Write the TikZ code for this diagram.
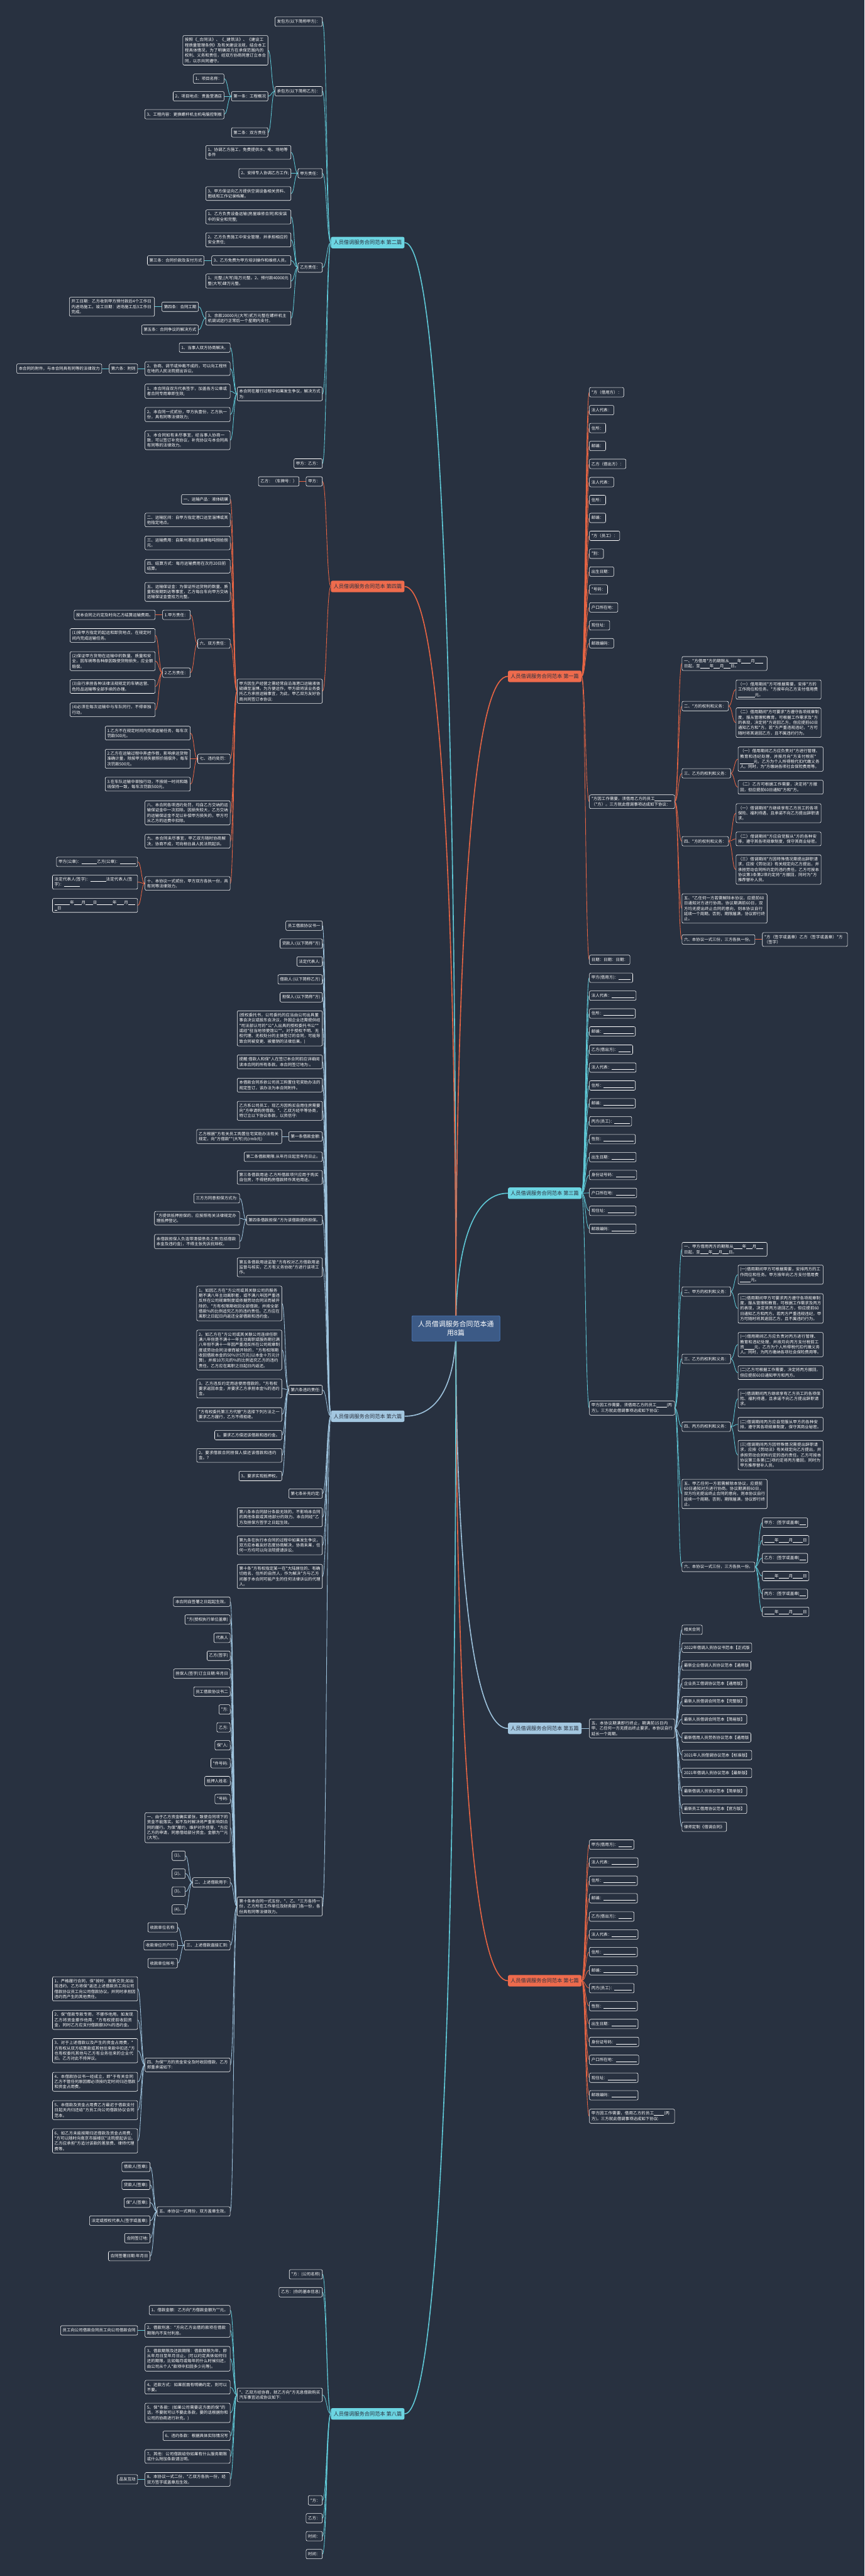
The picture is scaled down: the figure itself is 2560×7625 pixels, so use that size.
\documentclass[tikz,border=0pt]{standalone}
\usepackage{fontspec}
\setmainfont{Noto Sans CJK SC}
\usetikzlibrary{calc}
\XeTeXlinebreaklocale "zh"
\XeTeXlinebreakskip=0pt plus 1pt
\definecolor{bgc}{HTML}{283140}
\definecolor{cy}{HTML}{6CD5E2}
\definecolor{cyL}{HTML}{5FC9D7}
\definecolor{rd}{HTML}{EE6B4D}
\definecolor{rdL}{HTML}{E76443}
\definecolor{lb}{HTML}{A3C7E0}
\definecolor{lbL}{HTML}{9DC2DC}
\definecolor{rootf}{HTML}{3C5A86}
\definecolor{rootb}{HTML}{4B80C8}
\definecolor{dk}{HTML}{2B3240}
\newcommand\blk[1]{\leavevmode\allowbreak\rule[-1.5pt]{#1pt}{0.6pt}\allowbreak}
\newcommand\cR[3]{\draw[#1] (#2.east) .. controls ($(#2.east)!0.5!(#2.east -| #3.west)$) and ($(#3.west)!0.5!(#3.west -| #2.east)$) .. (#3.west);}
\newcommand\cL[3]{\draw[#1] (#2.west) .. controls ($(#2.west)!0.5!(#2.west -| #3.east)$) and ($(#3.east)!0.5!(#3.east -| #2.west)$) .. (#3.east);}
\newcommand\rR[2]{\draw[#1] (root.center) .. controls ($(root.center)!0.15!(root.center |- #2.west)$) and (root.center |- #2.west) .. (#2.west);}
\newcommand\rL[2]{\draw[#1] (root.center) .. controls ($(root.center)!0.15!(root.center |- #2.east)$) and (root.center |- #2.east) .. (#2.east);}
\pgfdeclarelayer{back}\pgfdeclarelayer{lines}\pgfsetlayers{back,lines,main}
\tikzset{
 box/.style={draw=white, line width=1.1pt, rounded corners=4pt, fill=bgc, text=white, font=\fontsize{12}{15.5}\selectfont, inner xsep=6pt, inner ysep=7pt, minimum height=28pt, align=left},
 w/.style={text width=240pt},
 L/.style={box, anchor=east},
 R/.style={box, anchor=west},
 brn/.style={rounded corners=5pt, text=dk, font=\fontsize{15.3}{18}\selectfont, inner xsep=7pt, minimum width=218pt, minimum height=34pt},
 rootn/.style={fill=rootf, draw=rootb, line width=1.2pt, rounded corners=4pt, text=white, font=\fontsize{20.4}{26}\selectfont, align=center, minimum width=261pt, minimum height=75pt},
 cyl/.style={draw=cyL, line width=1.6pt},
 rdl/.style={draw=rdL, line width=1.6pt},
 lbl/.style={draw=lbL, line width=1.6pt},
 rtc/.style={draw=cyL, line width=3pt},
 rtr/.style={draw=rdL, line width=3pt},
 rtb/.style={draw=lbL, line width=3pt},
}
\begin{document}
\begin{tikzpicture}[x=1pt,y=-1pt]
\begin{pgfonlayer}{back}
\fill[bgc] (0,0) rectangle (2560,7625);
\end{pgfonlayer}
\useasboundingbox (0,0) rectangle (2560,7625);

\node[rootn] (root) at (1350,3932) {人员借调服务合同范本通\\用8篇};
\node[brn,fill=rd,anchor=west] (b1) at (1504,2002) {人员借调服务合同范本 第一篇};
\node[brn,fill=cy,anchor=east] (b2) at (1198,718) {人员借调服务合同范本 第二篇};
\node[brn,fill=cy,anchor=west] (b3) at (1504,3532) {人员借调服务合同范本 第三篇};
\node[brn,fill=rd,anchor=east] (b4) at (1198,1736) {人员借调服务合同范本 第四篇};
\node[brn,fill=lb,anchor=west] (b5) at (1504,5116) {人员借调服务合同范本 第五篇};
\node[brn,fill=lb,anchor=east] (b6) at (1198,4192) {人员借调服务合同范本 第六篇};
\node[brn,fill=rd,anchor=west] (b7) at (1504,5863) {人员借调服务合同范本 第七篇};
\node[brn,fill=cy,anchor=east] (b8) at (1198,7145) {人员借调服务合同范本 第八篇};

% ---------- 第二篇 ----------
\node[L] (n201) at (955,64) {发包方(以下简称甲方)：};
\node[L] (n202) at (955,270) {承包方(以下简称乙方)：};
\node[L,w] (n203) at (794,149) {按照《\_合同法》、《\_建筑法》、《建设工程质量管理条例》及有关建设法规，结合本工程具体情况，为了明确双方在承保范围内的权利、义务和责任，经双方协商同意订立本合同，以示共同遵守。};
\node[L] (n204) at (794,285) {第一条：工程概况};
\node[L] (n205) at (664,233) {1、项目名称：};
\node[L] (n206) at (664,285) {2、项目地点：贵盈堂酒店};
\node[L] (n207) at (664,338) {3、工程内容：更换螺杆机主机电脑控制板};
\node[L] (n208) at (794,392) {第二条：双方责任};
\node[L] (n209) at (955,513) {甲方责任：};
\node[L,w] (n210) at (862,451) {1、协调乙方施工，免费提供水、电、场地等条件};
\node[L] (n211) at (862,513) {2、安排专人协调乙方工作;};
\node[L,w] (n212) at (862,573) {3、甲方保证向乙方提供空调设备相关资料、图纸和工作记录档案。};
\node[L] (n213) at (955,792) {乙方责任：};
\node[L,w] (n214) at (862,642) {1、乙方负责设备运输(房屋维修合同)和安装中的安全和完整;};
\node[L,w] (n215) at (862,710) {2、乙方负责施工中安全管理，并承担相应的安全责任;};
\node[L] (n216) at (862,771) {3、乙方免费为甲方培训操作和维修人员。};
\node[L] (n217) at (605,771) {第三条：合同价款及支付方式};
\node[L,w] (n218) at (862,832) {1、元整;(大写)陆万元整。2、预付款40000元整(大写)肆万元整。};
\node[L,w] (n219) at (862,942) {3、余款20000元(大写)贰万元整在螺杆机主机调试运行正常后一个星期内支付。};
\node[L] (n220) at (588,908) {第四条：合同工期};
\node[L,w] (n221) at (458,908) {开工日期：乙方收到甲方预付款后4个工作日内进场施工。竣工日期：进场施工后3工作日完成。};
\node[L] (n222) at (588,976) {第五条：合同争议的解决方式};
\node[L,w] (n223) at (955,1166) {本合同在履行过程中如果发生争议，解决方式为:};
\node[L] (n224) at (682,1029) {1、当事人双方协商解决。};
\node[L,w] (n225) at (682,1091) {2、协商、调节或仲裁不成的，可以向工程所在地的人民法院提出诉讼。};
\node[L] (n226) at (408,1091) {第六条：附则};
\node[L] (n227) at (302,1091) {本合同的附件，与本合同具有同等的法律效力};
\node[L,w] (n228) at (682,1158) {1、本合同自双方代表签字，加盖各方公章或者合同专用章即生效;};
\node[L,w] (n229) at (682,1227) {2、本合同一式贰份，甲方执壹份，乙方执一份，具有同等法律效力;};
\node[L,w] (n230) at (682,1303) {3、本合同如有未尽事宜，经当事人协商一致，可以签订补充协议，补充协议与本合同具有同等的法律效力。};
\node[L] (n231) at (955,1372) {甲方：乙方：};

% ---------- 第四篇 ----------
\node[L] (n401) at (955,1425) {甲方：};
\node[L] (n402) at (886,1425) {乙方：（车牌号：）};
\node[L,w] (n403) at (955,2046) {甲方因生产经营之需经常自沿海港口运输液体硫磺至淄博。为方便运作，甲方欲将该业务委托乙方承担运输事宜，为此，甲乙双方友好协商共同签订本协议:};
\node[L] (n404) at (682,1478) {一、运输产品：液体硫磺};
\node[L,w] (n405) at (682,1539) {二、运输区间：自甲方指定港口运至淄博或其他指定地点。};
\node[L,w] (n406) at (682,1607) {三、运输费用：自莱州港运至淄博每吨捌拾捌元。};
\node[L,w] (n407) at (682,1676) {四、结算方式：每月运输费用在次月20日前结算。};
\node[L,w] (n408) at (682,1752) {五、运输保证金：为保证所运货物的数量、质量和按期到达等事宜，乙方每台车向甲方交纳运输保证金壹拾万元整。};
\node[L] (n409) at (682,1905) {六、双方责任：};
\node[L] (n410) at (564,1820) {1.甲方责任：};
\node[L] (n411) at (460,1820) {按本合同之约定及时向乙方结算运输费用。};
\node[L] (n412) at (564,1991) {2.乙方责任：};
\node[L,w] (n413) at (460,1881) {(1)按甲方指定的起运和卸货地点，在规定时间内完成运输任务。};
\node[L,w] (n414) at (460,1957) {(2)保证甲方货物在运输中的数量、质量和安全，因车祸等各种原因致使货物损失，应全额赔偿。};
\node[L,w] (n415) at (460,2032) {(3)自行承担各种法律法规规定的车辆运营、危险品运输等全部手续的办理。};
\node[L,w] (n416) at (460,2101) {(4)必须在每次运输中与车队同行，不得单独行动。};
\node[L] (n417) at (682,2246) {七、违约处罚：};
\node[L,w] (n418) at (564,2170) {1.乙方不在规定时间内完成运输任务，每车次罚款500元。};
\node[L,w] (n419) at (564,2246) {2.乙方在运输过程中弄虚作假，影响承运货物准确计量，除按甲方损失额照价赔偿外，每车次罚款500元。};
\node[L,w] (n420) at (564,2321) {3.在车队运输中单独行动，不按统一时间和路线保持一致，每车次罚款500元。};
\node[L,w] (n421) at (682,2406) {八、本合同各项违约处罚，均自乙方交纳的运输保证金中一次扣除。因损失较大，乙方交纳的运输保证金不足以补偿甲方损失的，甲方可从乙方的运费中扣除。};
\node[L,w] (n422) at (682,2490) {九、本合同未尽事宜，甲乙双方随时协商解决，协商不成，可向桓台县人民法院起诉。};
\node[L,w] (n423) at (682,2615) {十、本协议一式贰份，甲方双方各执一份，具有同等法律效力。};
\node[L] (n424) at (408,2551) {甲方(公章)：\blk{46}乙方(公章)：\blk{46}};
\node[L,w] (n425) at (408,2611) {法定代表人(签字)：\blk{46}法定代表人(签字)：\blk{46}};
\node[L,w] (n426) at (408,2680) {\blk{46}年\blk{22}月\blk{22}日\blk{46}年\blk{22}月\blk{20}\blk{8}日};

% ---------- 第六篇 ----------
\node[L] (n601) at (955,2740) {员工借款协议书一};
\node[L] (n602) at (955,2793) {贷款人:(以下简称*方)};
\node[L] (n603) at (955,2846) {法定代表人:};
\node[L] (n604) at (955,2899) {借款人:(以下简称乙方)};
\node[L] (n605) at (955,2952) {担保人:(以下简称*方)};
\node[L,w] (n606) at (955,3044) {(授权委托书，公司委托的应当由公司出具董事会决议或股东会决议，外国企业还需提供经*司法部认可的*公*人出具的授权委托书公**或经*驻当地领使馆公**。对于授权不明、无权代理、无权处分的主体签订的合同，可能导致合同被变更、被撤销的法律后果。)};
\node[L,w] (n607) at (955,3143) {提醒:借款人和保*人在签订本合同前应详细阅读本合同的所有条款。本合同签订地为:。};
\node[L,w] (n608) at (955,3212) {本借款合同系依公司员工购置住宅奖助办法的规定签订，该办法为本合同附件。};
\node[L,w] (n609) at (955,3288) {乙方系公司员工，现乙方因购买自用住房需要向*方申请购房借款。*、乙双方经平等协商，特订立以下协议条款，以资信守:};
\node[L] (n610) at (955,3364) {第一条借款金额:};
\node[L,w] (n611) at (835,3364) {乙方根据*方有关员工购置住宅奖助办法有关规定，向*方借款**(大写)元(rmb元)};
\node[L] (n612) at (955,3424) {第二条借款期限:从年月日起至年月日止。};
\node[L,w] (n613) at (955,3485) {第三条借款用途:乙方所借款项只应用于购买自住房，不得把购房借款转作其他用途。};
\node[L] (n614) at (955,3611) {第四条借款担保:*方为该借款提供担保。};
\node[L] (n615) at (710,3547) {三方方同意担保方式为:};
\node[L,w] (n616) at (710,3606) {*方提供抵押担保的，应按照有关法律规定办理抵押登记。};
\node[L,w] (n617) at (710,3675) {本借款担保人负连带清偿债务之责(包括借款本金及违约金)，不得主张先诉抗辩权。};
\node[L,w] (n618) at (955,3751) {第五条借款用途监管:*方有权对乙方借款用途监督与核实，乙方有义务协助*方进行该项工作。};
\node[L] (n619) at (955,4114) {第六条违约责任:};
\node[L,w] (n620) at (835,3858) {1。如因乙方在*方公司或其关联公司的服务期不满八年主动离职者，或不满八年因严重违反所在公司规章制度或依据劳动合同法而被开除的，*方有权限期收回全部借款，并按全部借款\%的比例追究乙方的违约责任。乙方应在离职之日起日内返还全部借款和违约金。};
\node[L,w] (n621) at (835,3996) {2。如乙方在*方公司或其关联公司连续任职满八年但是不满十一年主动离职或服务期已满八年但不满十一年因严重违反所在公司规章制度或劳动合同法律而被开除的，*方有权限期收回借款本金的50\%计5万元(以本金十万元计算)，并按10万元的\%的比例追究乙方的违约责任。乙方应在离职之日起日内返还。};
\node[L,w] (n622) at (835,4110) {3。乙方违反约定用途使用借款的，*方有权要求返回本金，并要求乙方承担本金\%的违约金。};
\node[L,w] (n623) at (835,4187) {*方有权委托第三方代替*方选择下列方法之一要求乙方履行，乙方不得拒绝。};
\node[L] (n624) at (835,4248) {1。要求乙方偿还该借款和违约金。};
\node[L,w] (n625) at (835,4308) {2。要求借款合同担保人偿还该借款和违约金。?};
\node[L] (n626) at (835,4369) {3。要求实现抵押权。};
\node[L] (n627) at (955,4421) {第七条补充约定:};
\node[L,w] (n628) at (955,4491) {第八条本合同部分条款无效的，不影响本合同的其他条款或其他部分的效力。本合同经*乙方及担保方签字之日起生效。};
\node[L,w] (n629) at (955,4574) {第九条在执行本合同的过程中如果发生争议，双方应本着友好态度协商解决，协商未果，任何一方均可以向法院提请诉讼。};
\node[L,w] (n630) at (955,4666) {第十条*方有权指定某一在*大陆居住的、有确切姓名、住所的自然人，作为解决*方与乙方间基于本合同可能产生的任何法律诉讼的代理人。};
\node[L,w] (n631) at (955,5643) {第十条本合同一式五份，*、乙、*三方各持一份，乙方所在工作单位及财务部门各一份，各份具有同等法律效力。};
\node[L] (n632) at (682,4741) {本合同自签署之日起起生效。};
\node[L] (n633) at (682,4794) {*方(授权执行单位盖章)};
\node[L] (n634) at (682,4848) {代表人};
\node[L] (n635) at (682,4901) {乙方(签字)};
\node[L] (n636) at (682,4954) {担保人(签字)订立日期:年月日};
\node[L] (n637) at (682,5007) {员工借款协议书二};
\node[L] (n638) at (682,5060) {*方:};
\node[L] (n639) at (682,5113) {乙方:};
\node[L] (n640) at (682,5166) {保*人:};
\node[L] (n641) at (682,5219) {*件号码:};
\node[L] (n642) at (682,5272) {抵押人姓名:};
\node[L] (n643) at (682,5325) {*号码:};
\node[L,w] (n644) at (682,5410) {一、由于乙方资金确实紧张，致使合同项下的资金不能落实。如不及时解决将严重影响到合同的履行。为保*履约，维护对外信誉，*方应乙方的申请，同意借给部分资金。金额为**元(大写)。};
\node[L] (n645) at (682,5572) {二、上述借款用于:};
\node[L] (n646) at (549,5493) {(1)、};
\node[L] (n647) at (549,5546) {(2)、};
\node[L] (n648) at (549,5599) {(3)、};
\node[L] (n649) at (549,5652) {(4)、};
\node[L] (n650) at (682,5758) {三、上述借款直接汇到:};
\node[L] (n651) at (526,5705) {收款单位名称:};
\node[L] (n652) at (526,5758) {收款单位开户行:};
\node[L] (n653) at (526,5811) {收款单位帐号:};
\node[L,w] (n654) at (682,6112) {四、为保**方的资金安全及时收回借款，乙方郑重承诺如下:};
\node[L,w] (n655) at (408,5887) {1、严格履行合同，保*按时、按质交货;如出现违约，乙方将保*返还上述借款员工向公司借款协议员工向公司借款协议。并同时承担因违约而产生的其他责任。};
\node[L,w] (n656) at (408,5979) {2、保*借款专款专用，不挪作他用。如发现乙方将资金挪作他用，*方有权提前收回资金，同时乙方应支付借款额30\%的违约金。};
\node[L,w] (n657) at (408,6070) {3、对于上述借款以及产生的资金占用费，*方有权从双方结算款或其他往来款中扣还;*方也有权委托其他与乙方有业务往来的企业代扣。乙方对此不持异议。};
\node[L,w] (n658) at (408,6162) {4、本借款协议书一经成立，即*于有关合同乙方不管任何原因都必须按约定时间归还借款和资金占用费。};
\node[L,w] (n659) at (408,6246) {5、本借款及资金占用费乙方最迟于借款支付日起天内归还给*方员工向公司借款协议合同范本。};
\node[L,w] (n660) at (408,6337) {6、如乙方未能按期归还借款及资金占用费，*方可以随时向南京市鼓楼区*法院提起诉讼。乙方应承担*方追讨该款的差旅费、律师代理费等。};
\node[L] (n661) at (682,6546) {五、本协议一式两份，双方盖章生效。};
\node[L] (n662) at (445,6414) {借款人(签章):};
\node[L] (n663) at (445,6467) {贷款人(签章):};
\node[L] (n664) at (445,6520) {保*人(签章):};
\node[L] (n665) at (445,6573) {法定或授权代表人(签字或盖章):};
\node[L] (n666) at (445,6625) {合同签订地:};
\node[L] (n667) at (445,6678) {合同签署日期:年月日};

% ---------- 第八篇 ----------
\node[L] (n801) at (955,6732) {*方：(公司名称)};
\node[L] (n802) at (955,6785) {乙方：(你的基本信息)};
\node[L,w] (n803) at (955,7089) {*、乙双方经协商，就乙方向*方无息借款购买汽车事宜达成协议如下:};
\node[L] (n804) at (682,6838) {1、借款金额：乙方向*方借款金额为**元。};
\node[L,w] (n805) at (682,6898) {2、借款利息：*方向乙方出借的款项在借款期限内不支付利息。};
\node[L] (n806) at (408,6898) {员工向公司借款合同员工向公司借款合同};
\node[L,w] (n807) at (682,6982) {3、借款期限及还款期限：借款期限为年，即从年月日至年月日止。(可以约定具体如何归还的期限，比如每月或每年的什么时候归还，由公司从个人*款项中扣回多少元等)。};
\node[L,w] (n808) at (682,7066) {4、还款方式：如果前面有明确约定，则可以不要。};
\node[L,w] (n809) at (682,7142) {5、保*条款：(如果公司需要这方面的保*的话，不要就可以不要此条款，要的话根据你和公司的协商进行补充。)};
\node[L] (n810) at (682,7210) {6、违约条款：根据具体实际情况写};
\node[L,w] (n811) at (682,7271) {7、其他：公司借款给你如果有什么服务期限或什么附加条款请注明。};
\node[L,w] (n812) at (682,7339) {8、本协议一式二份，*乙双方各执一份，经双方签字或盖章后生效。};
\node[L] (n813) at (408,7339) {品友互动};
\node[L] (n814) at (955,7401) {*方：};
\node[L] (n815) at (955,7454) {乙方：};
\node[L] (n816) at (955,7507) {时间：};
\node[L] (n817) at (955,7560) {时间：};

% ---------- 第一篇 ----------
\node[R] (m101) at (1745,1161) {*方（借用方）：};
\node[R] (m102) at (1745,1214) {法人代表：};
\node[R] (m103) at (1745,1267) {住所：};
\node[R] (m104) at (1745,1320) {邮编：};
\node[R] (m105) at (1745,1373) {乙方（借出方）：};
\node[R] (m106) at (1745,1427) {法人代表：};
\node[R] (m107) at (1745,1480) {住所：};
\node[R] (m108) at (1745,1533) {邮编：};
\node[R] (m109) at (1745,1586) {*方（员工）：};
\node[R] (m110) at (1745,1639) {*别：};
\node[R] (m111) at (1745,1692) {出生日期：};
\node[R] (m112) at (1745,1745) {*号码：};
\node[R] (m113) at (1745,1798) {户口所在地：};
\node[R] (m114) at (1745,1851) {现住址：};
\node[R] (m115) at (1745,1904) {邮政编码：};
\node[R,w] (m116) at (1745,2373) {*方因工作需要，须借用乙方的员工\blk{50}（*方）。三方就此借调事项达成如下协议：};
\node[R,w] (m117) at (2019,1964) {一、*方借用*方的期限从\blk{24}年\blk{28}月\blk{24}日起，至\blk{28}年\blk{18}月\blk{20}日。};
\node[R] (m118) at (2019,2090) {二、*方的权利和义务：};
\node[R,w] (m119) at (2179,2041) {（一）借用期间*方可根据需要，安排*方的工作岗位和任务。*方按年向乙方支付借用费\blk{50}元。};
\node[R,w] (m120) at (2179,2139) {（二）借用期间*方可要求*方遵守各项规章制度，服从管理和教育。可根据工作需求及*方的表现，决定将*方退回乙方，但应提前60日通知乙方和*方。若*方严重违规违纪，*方可随时将其退回乙方，且不属违约行为。};
\node[R] (m121) at (2019,2289) {三、乙方的权利和义务：};
\node[R,w] (m122) at (2185,2247) {（一）借用期间乙方应负责对*方进行管理、教育和违纪处理，并按月向*方支付税前*\blk{40}元，乙方为个人所得税代扣代缴义务人。同时，为*方缴纳各项社会保险费用等。};
\node[R,w] (m123) at (2185,2330) {（二）乙方可根据工作需要，决定将*方撤回，但应提前60日通知*方和*方。};
\node[R] (m124) at (2019,2490) {四、*方的权利和义务：};
\node[R,w] (m125) at (2179,2407) {（一）借调期间*方继续享有乙方员工的各项保险、福利待遇，且承诺不向乙方提出辞职请求。};
\node[R,w] (m126) at (2179,2483) {（二）借调期间*方应自觉服从*方的各种安排，遵守其各项规章制度，保守其商业秘密。};
\node[R,w] (m127) at (2179,2574) {（三）借调期间*方因特殊情况需提出辞职请求，应按《劳动法》有关规定向乙方提出，并承担劳动合同所约定的违约责任。乙方可按本协议第3条第2项约定将*方撤回，同时为*方推荐替补人员。};
\node[R,w] (m128) at (2019,2689) {五、*乙任何一方若需解除本协议，应提前60日通知对方进行协商。协议期满前60日，双方均无提出终止合同的意向，则本协议自行延续一个周期。否则，期限届满，协议即行终止。};
\node[R] (m129) at (2019,2781) {六、本协议一式三份，三方各执一份。};
\node[R,w] (m130) at (2257,2781) {*方（签字或盖章）乙方（签字或盖章）*方（签字）};
\node[R] (m131) at (1745,2841) {日期：日期：日期：};

% ---------- 第三篇 ----------
\node[R] (m301) at (1745,2894) {甲方(借用方)：\blk{36}};
\node[R] (m302) at (1745,2947) {法人代表：\blk{66}};
\node[R] (m303) at (1745,3000) {住所：\blk{88}};
\node[R] (m304) at (1745,3053) {邮编：\blk{88}};
\node[R] (m305) at (1745,3107) {乙方(借出方)：\blk{36}};
\node[R] (m306) at (1745,3160) {法人代表：\blk{66}};
\node[R] (m307) at (1745,3213) {住所：\blk{88}};
\node[R] (m308) at (1745,3266) {邮编：\blk{88}};
\node[R] (m309) at (1745,3319) {丙方(员工)：\blk{45}};
\node[R] (m310) at (1745,3372) {性别：\blk{88}};
\node[R] (m311) at (1745,3425) {出生日期：\blk{66}};
\node[R] (m312) at (1745,3478) {身份证号码：\blk{56}};
\node[R] (m313) at (1745,3531) {户口所在地：\blk{56}};
\node[R] (m314) at (1745,3584) {现住址：\blk{78}};
\node[R] (m315) at (1745,3637) {邮政编码：\blk{66}};
\node[R,w] (m316) at (1745,4168) {甲方因工作需要，须借用乙方的员工\blk{30}(丙方)。三方就此借调事项达成如下协议：};
\node[R,w] (m317) at (2019,3698) {一、甲方借用丙方的期限从\blk{26}年\blk{18}月\blk{20}日起，至\blk{24}年\blk{18}月\blk{18}日。};
\node[R] (m318) at (2019,3823) {二、甲方的权利和义务：};
\node[R,w] (m319) at (2185,3773) {(一)借用期间甲方可根据需要，安排丙方的工作岗位和任务。甲方按年向乙方支付借用费\blk{32}元。};
\node[R,w] (m320) at (2185,3873) {(二)借用期间甲方可要求丙方遵守各项规章制度，服从管理和教育。可根据工作需求及丙方的表现，决定将丙方退回乙方，但应提前60日通知乙方和丙方。若丙方严重违规违纪，甲方可随时将其退回乙方，且不属违约行为。};
\node[R] (m321) at (2019,4022) {三、乙方的权利和义务：};
\node[R,w] (m322) at (2185,3980) {(一)借用期间乙方应负责对丙方进行管理、教育和违纪处理，并按月向丙方支付税前工资\blk{30}元，乙方为个人所得税代扣代缴义务人。同时，为丙方缴纳各项社会保险费用等。};
\node[R,w] (m323) at (2185,4063) {(二)乙方可根据工作需要，决定将丙方撤回，但应提前60日通知甲方和丙方。};
\node[R] (m324) at (2019,4223) {四、丙方的权利和义务：};
\node[R,w] (m325) at (2185,4140) {(一)借调期间丙方继续享有乙方员工的各项保险、福利待遇，且承诺不向乙方提出辞职请求。};
\node[R,w] (m326) at (2185,4216) {(二)借调期间丙方应自觉服从甲方的各种安排，遵守其各项规章制度，保守其商业秘密。};
\node[R,w] (m327) at (2185,4307) {(三)借调期间丙方因特殊情况需提出辞职请求，应按《劳动法》有关规定向乙方提出，并承担劳动合同所约定的违约责任。乙方可按本协议第三条第(二)项约定将丙方撤回，同时为甲方推荐替补人员。};
\node[R,w] (m328) at (2019,4422) {五、甲乙任何一方若需解除本协议，应提前60日通知对方进行协商。协议期满前60日，双方均无提出终止合同的意向，则本协议自行延续一个周期。否则，期限届满，协议即行终止。};
\node[R] (m329) at (2019,4638) {六、本协议一式三份，三方各执一份。};
\node[R] (m330) at (2257,4507) {甲方：(签字或盖章)\blk{18}};
\node[R] (m331) at (2257,4559) {\blk{30}年\blk{30}月\blk{30}日};
\node[R] (m332) at (2257,4612) {乙方：(签字或盖章)\blk{18}};
\node[R] (m333) at (2257,4665) {\blk{30}年\blk{30}月\blk{30}日};
\node[R] (m334) at (2257,4718) {丙方：(签字或盖章)\blk{18}};
\node[R] (m335) at (2257,4771) {\blk{30}年\blk{30}月\blk{30}日};

% ---------- 第五篇 ----------
\node[R,w] (m501) at (1745,5116) {五、本协议期满即行终止，期满前15日内甲、乙任何一方无提出终止要求，本协议自行延长一个周期。};
\node[R] (m502) at (2019,4824) {相关合同};
\node[R] (m503) at (2019,4877) {2022年借调人员协议书范本【正式版};
\node[R] (m504) at (2019,4930) {最新企业借调人员协议范本【通用版};
\node[R] (m505) at (2019,4983) {企业员工借调协议范本【通用版】};
\node[R] (m506) at (2019,5036) {最新人员借调合同范本【完整版】};
\node[R] (m507) at (2019,5089) {最新人员借调合同范本【简易版】};
\node[R] (m508) at (2019,5143) {最新借用人员劳务协议范本【通用版};
\node[R] (m509) at (2019,5195) {2021年人员借调协议范本【标准版】};
\node[R] (m510) at (2019,5248) {2021年借调人员协议范本【最新版】};
\node[R] (m511) at (2019,5302) {最新借调人员协议范本【简单版】};
\node[R] (m512) at (2019,5354) {最新员工借用协议范本【官方版】};
\node[R] (m513) at (2019,5407) {律师定制《借调合同》};

% ---------- 第七篇 ----------
\node[R] (m701) at (1745,5460) {甲方(借用方)：\blk{40}};
\node[R] (m702) at (1745,5513) {法人代表：\blk{72}};
\node[R] (m703) at (1745,5567) {住所：\blk{94}};
\node[R] (m704) at (1745,5619) {邮编：\blk{94}};
\node[R] (m705) at (1745,5673) {乙方(借出方)：\blk{40}};
\node[R] (m706) at (1745,5726) {法人代表：\blk{72}};
\node[R] (m707) at (1745,5778) {住所：\blk{94}};
\node[R] (m708) at (1745,5832) {邮编：\blk{94}};
\node[R] (m709) at (1745,5885) {丙方(员工)：\blk{52}};
\node[R] (m710) at (1745,5938) {性别：\blk{94}};
\node[R] (m711) at (1745,5991) {出生日期：\blk{72}};
\node[R] (m712) at (1745,6044) {身份证号码：\blk{62}};
\node[R] (m713) at (1745,6097) {户口所在地：\blk{62}};
\node[R] (m714) at (1745,6150) {现住址：\blk{84}};
\node[R] (m715) at (1745,6202) {邮政编码：\blk{72}};
\node[R,w] (m716) at (1745,6264) {甲方因工作需要，借用乙方的员工\blk{30}(丙方)。三方就此借调事项达成如下协议:};

% ---------- connectors ----------
\begin{pgfonlayer}{lines}
\rR{rtr}{b1}
\rL{rtc}{b2}
\rR{rtc}{b3}
\rL{rtr}{b4}
\rR{rtb}{b5}
\rL{rtb}{b6}
\rR{rtr}{b7}
\rL{rtc}{b8}
% 第二篇
\foreach \c in {n201,n202,n209,n213,n223,n231} {\cL{cyl}{b2}{\c}}
\foreach \c in {n203,n204,n208} {\cL{cyl}{n202}{\c}}
\foreach \c in {n205,n206,n207} {\cL{cyl}{n204}{\c}}
\foreach \c in {n210,n211,n212} {\cL{cyl}{n209}{\c}}
\foreach \c in {n214,n215,n216,n218,n219} {\cL{cyl}{n213}{\c}}
\cL{cyl}{n216}{n217}
\foreach \c in {n220,n222} {\cL{cyl}{n219}{\c}}
\cL{cyl}{n220}{n221}
\foreach \c in {n224,n225,n228,n229,n230} {\cL{cyl}{n223}{\c}}
\cL{cyl}{n225}{n226}
\cL{cyl}{n226}{n227}
% 第四篇
\foreach \c in {n401,n403} {\cL{rdl}{b4}{\c}}
\cL{rdl}{n401}{n402}
\foreach \c in {n404,n405,n406,n407,n408,n409,n417,n421,n422,n423} {\cL{rdl}{n403}{\c}}
\foreach \c in {n410,n412} {\cL{rdl}{n409}{\c}}
\cL{rdl}{n410}{n411}
\foreach \c in {n413,n414,n415,n416} {\cL{rdl}{n412}{\c}}
\foreach \c in {n418,n419,n420} {\cL{rdl}{n417}{\c}}
\foreach \c in {n424,n425,n426} {\cL{rdl}{n423}{\c}}
% 第六篇
\foreach \c in {n601,n602,n603,n604,n605,n606,n607,n608,n609,n610,n612,n613,n614,n618,n619,n627,n628,n629,n630,n631} {\cL{lbl}{b6}{\c}}
\cL{lbl}{n610}{n611}
\foreach \c in {n615,n616,n617} {\cL{lbl}{n614}{\c}}
\foreach \c in {n620,n621,n622,n623,n624,n625,n626} {\cL{lbl}{n619}{\c}}
\foreach \c in {n632,n633,n634,n635,n636,n637,n638,n639,n640,n641,n642,n643,n644,n645,n650,n654,n661} {\cL{lbl}{n631}{\c}}
\foreach \c in {n646,n647,n648,n649} {\cL{lbl}{n645}{\c}}
\foreach \c in {n651,n652,n653} {\cL{lbl}{n650}{\c}}
\foreach \c in {n655,n656,n657,n658,n659,n660} {\cL{lbl}{n654}{\c}}
\foreach \c in {n662,n663,n664,n665,n666,n667} {\cL{lbl}{n661}{\c}}
% 第八篇
\foreach \c in {n801,n802,n803,n814,n815,n816,n817} {\cL{cyl}{b8}{\c}}
\foreach \c in {n804,n805,n807,n808,n809,n810,n811,n812} {\cL{cyl}{n803}{\c}}
\cL{cyl}{n805}{n806}
\cL{cyl}{n812}{n813}
% 第一篇
\foreach \c in {m101,m102,m103,m104,m105,m106,m107,m108,m109,m110,m111,m112,m113,m114,m115,m116,m131} {\cR{rdl}{b1}{\c}}
\foreach \c in {m117,m118,m121,m124,m128,m129} {\cR{rdl}{m116}{\c}}
\foreach \c in {m119,m120} {\cR{rdl}{m118}{\c}}
\foreach \c in {m122,m123} {\cR{rdl}{m121}{\c}}
\foreach \c in {m125,m126,m127} {\cR{rdl}{m124}{\c}}
\cR{rdl}{m129}{m130}
% 第三篇
\foreach \c in {m301,m302,m303,m304,m305,m306,m307,m308,m309,m310,m311,m312,m313,m314,m315,m316} {\cR{cyl}{b3}{\c}}
\foreach \c in {m317,m318,m321,m324,m328,m329} {\cR{cyl}{m316}{\c}}
\foreach \c in {m319,m320} {\cR{cyl}{m318}{\c}}
\foreach \c in {m322,m323} {\cR{cyl}{m321}{\c}}
\foreach \c in {m325,m326,m327} {\cR{cyl}{m324}{\c}}
\foreach \c in {m330,m331,m332,m333,m334,m335} {\cR{cyl}{m329}{\c}}
% 第五篇
\cR{lbl}{b5}{m501}
\foreach \c in {m502,m503,m504,m505,m506,m507,m508,m509,m510,m511,m512,m513} {\cR{lbl}{m501}{\c}}
% 第七篇
\foreach \c in {m701,m702,m703,m704,m705,m706,m707,m708,m709,m710,m711,m712,m713,m714,m715,m716} {\cR{rdl}{b7}{\c}}
\end{pgfonlayer}
\end{tikzpicture}
\end{document}
